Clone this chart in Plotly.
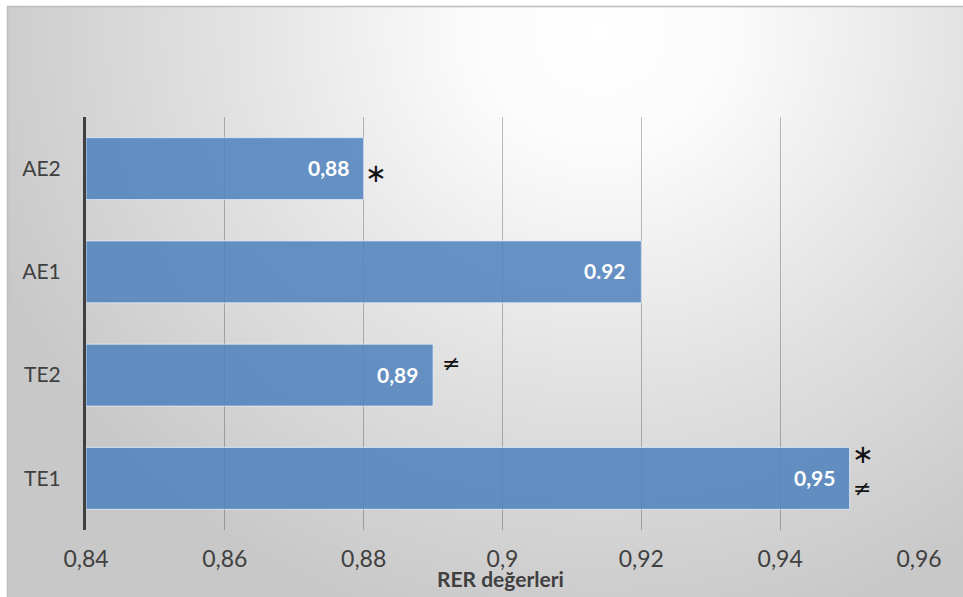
import base64
import plotly.graph_objects as go

# RER values per group
groups = ["AE2", "AE1", "TE2", "TE1"]
rer_values = [0.88, 0.92, 0.89, 0.95]
value_labels = ["0,88", "0.92", "0,89", "0,95"]

# x-axis ticks
axis_start = 0.84
tick_values = [0.84, 0.86, 0.88, 0.90, 0.92, 0.94, 0.96]
tick_labels = ["0,84", "0,86", "0,88", "0,9", "0,92", "0,94", "0,96"]

# significance marks: (group, value at bar end, symbol, horizontal shift, vertical shift in px)
marks = [
    ("AE2", 0.88, "∗", -1, -4),
    ("TE2", 0.89, "≠", 7, 12),
    ("TE1", 0.95, "∗", 0, 24),
    ("TE1", 0.95, "≠", 1, -10),
]

W, H = 963, 597
FONT = "Lato, 'Open Sans', sans-serif"

# background panel: soft radial gradient from white to light grey
bg_svg = f"""<svg xmlns='http://www.w3.org/2000/svg' width='{W}' height='{H}' viewBox='0 0 {W} {H}' preserveAspectRatio='none'>
<defs>
<radialGradient id='g' gradientUnits='userSpaceOnUse' cx='600' cy='30' r='650'
 gradientTransform='translate(600 30) scale(1 0.95) translate(-600 -30)'>
<stop offset='0' stop-color='#ffffff'/>
<stop offset='0.2' stop-color='#fbfbfb'/>
<stop offset='0.6' stop-color='#e0e0e0'/>
<stop offset='1' stop-color='#c8c8c8'/>
</radialGradient>
</defs>
<rect x='0' y='0' width='{W}' height='{H}' fill='#ffffff'/>
<rect x='7.5' y='6.5' width='{W + 10}' height='{H + 10}' fill='url(#g)' stroke='#bdbdbd' stroke-width='1.5'/>
</svg>"""
bg_uri = "data:image/svg+xml;base64," + base64.b64encode(bg_svg.encode("utf-8")).decode("ascii")

fig = go.Figure()

# bars start at the left edge of the axis and end at their RER value
fig.add_trace(go.Bar(
    x=[v - axis_start for v in rer_values],
    y=groups,
    orientation="h",
    base=axis_start,
    marker=dict(color="rgba(79,129,189,0.86)", line=dict(color="rgba(225,235,248,0.8)", width=1)),
    hoverinfo="skip",
))

# value labels, inset from the bar ends
for grp, val, lbl in zip(groups, rer_values, value_labels):
    fig.add_annotation(
        x=val, y=grp, xref="x", yref="y",
        text=f"<b>{lbl}</b>", showarrow=False,
        xanchor="right", xshift=-13, yshift=1,
        font=dict(family=FONT, size=21, color="white"),
    )

for grp, val, sym, dx, dy in marks:
    fig.add_annotation(
        x=val, y=grp, xref="x", yref="y",
        text=sym, showarrow=False,
        xanchor="left", xshift=dx, yshift=dy,
        font=dict(family="DejaVu Sans", size=22 if sym == "≠" else 26, color="#111111"),
    )

fig.add_annotation(
    x=500 / W, y=1 - 578 / H, xref="paper", yref="paper",
    text="<b>RER değerleri</b>", showarrow=False,
    xanchor="center", yanchor="middle",
    font=dict(family=FONT, size=21, color="#404040"),
)

fig.update_layout(
    width=W, height=H,
    margin=dict(l=0, r=0, t=0, b=0, autoexpand=False),
    paper_bgcolor="white",
    plot_bgcolor="rgba(0,0,0,0)",
    separators=",.",
    bargap=0.4,
    showlegend=False,
    images=[dict(source=bg_uri, xref="paper", yref="paper", x=0, y=1,
                 sizex=1, sizey=1, sizing="stretch", layer="below",
                 xanchor="left", yanchor="top")],
    xaxis=dict(
        domain=[86 / W, 919 / W],
        range=[0.84, 0.96],
        tickvals=tick_values,
        ticktext=tick_labels,
        showgrid=True, gridcolor="rgba(0,0,0,0.25)", gridwidth=1,
        zeroline=False, showline=False, ticks="",
        automargin=False,
        ticklabelstandoff=13,
        tickfont=dict(family=FONT, size=23, color="#404040"),
    ),
    yaxis=dict(
        domain=[1 - 530 / H, 1 - 117 / H],
        autorange="reversed",
        showgrid=False, zeroline=False,
        showline=True, linecolor="#404040", linewidth=3,
        ticks="", ticklabelstandoff=18,
        automargin=False,
        tickfont=dict(family=FONT, size=21, color="#404040"),
    ),
)

fig.write_html("out.html")
